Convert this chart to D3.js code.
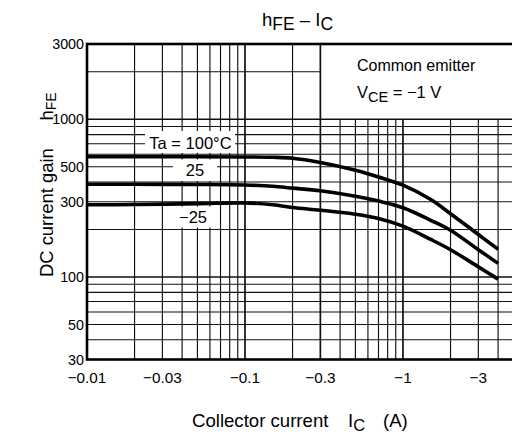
<!DOCTYPE html>
<html>
<head>
<meta charset="utf-8">
<script src="https://cdn.jsdelivr.net/npm/d3@7"></script>
<style>
  html, body { margin: 0; padding: 0; background: #fff; }
  svg { display: block; }
  text { font-family: "Liberation Sans", Arial, Helvetica, sans-serif; fill: #000; }
</style>
</head>
<body>
<svg id="chart" width="512" height="439"></svg>
<script>
// ---- data (collector current magnitude in A, DC current gain) ----
const currents = [0.01, 0.02, 0.05, 0.1, 0.15, 0.2, 0.3, 0.5, 0.7, 1, 1.5, 2, 3, 4];
const hfeTa100 = [578, 578, 578, 577, 574, 566, 532, 475, 431, 382, 310, 252, 186, 150];
const hfeTa25  = [387, 387, 386, 383, 376, 366, 352, 325, 303, 275, 229, 198, 149, 122];
const hfeTaM25 = [287, 288, 292, 295, 287, 276, 265, 250, 235, 210, 173, 149, 116, 97];
const seriesNames = ["Ta = 100°C", "25", "−25"];
const xTickValues = [0.01, 0.03, 0.1, 0.3, 1, 3];
const xTickLabels = ["−0.01", "−0.03", "−0.1", "−0.3", "−1", "−3"];
const yTickValues = [3000, 1000, 500, 300, 100, 50, 30];
const yTickLabels = ["3000", "1000", "500", "300", "100", "50", "30"];

const svg = d3.select("#chart");
svg.append("rect").attr("width", 512).attr("height", 439).attr("fill", "#fff");

const x = d3.scaleLog().domain([0.01, 5]).range([87, 513.4]);
const y = d3.scaleLog().domain([30, 3000]).range([359.5, 44]);

const x0 = x(0.01), x1 = x(5), y0 = y(30), y1 = y(3000);
const boxX = x(0.3), boxY = y(1000);

// ---- grid ----
const vGrid = [];
[0.01, 0.1, 1].forEach(d => { for (let k = 1; k <= 9; k++) { const v = +(d * k).toPrecision(3); if (v > 0.01 && v < 5) vGrid.push(v); } });
const hGrid = [];
[10, 100, 1000].forEach(d => { for (let k = 1; k <= 9; k++) { const v = d * k; if (v > 30 && v < 3000) hGrid.push(v); } });
const isDecade = v => Math.abs(Math.log10(v) - Math.round(Math.log10(v))) < 1e-6;

const grid = svg.append("g").attr("stroke", "#111");
grid.selectAll("line.v").data(vGrid).join("line")
  .attr("x1", d => x(d)).attr("x2", d => x(d))
  .attr("y1", d => d <= 0.3001 ? y1 : boxY).attr("y2", y0)
  .attr("stroke-width", d => (isDecade(d) || Math.abs(d - 0.3) < 1e-6) ? 1.7 : 1.15);
grid.selectAll("line.h").data(hGrid).join("line")
  .attr("y1", d => y(d)).attr("y2", d => y(d))
  .attr("x1", x0).attr("x2", d => d > 1000 ? boxX : x1)
  .attr("stroke-width", d => isDecade(d) ? 1.5 : 1.15);

// ---- label backgrounds ----
const labelBoxes = [
  {x: 145, y: 131, w: 90, h: 22},
  {x: 173, y: 159.5, w: 44, h: 21.5},
  {x: 171, y: 206.5, w: 45, h: 21}
];
svg.append("g").selectAll("rect").data(labelBoxes).join("rect")
  .attr("x", d => d.x).attr("y", d => d.y).attr("width", d => d.w).attr("height", d => d.h)
  .attr("fill", "#fff");

// ---- curves ----
const series = [hfeTa100, hfeTa25, hfeTaM25];
const line = d3.line().x(d => x(d[0])).y(d => y(d[1])).curve(d3.curveCatmullRom.alpha(0.5));
svg.append("g").selectAll("path").data(series).join("path")
  .attr("d", s => line(currents.map((c, i) => [c, s[i]])))
  .attr("fill", "none").attr("stroke", "#000").attr("stroke-width", 3.6);

// ---- frame ----
svg.append("rect").attr("x", x0).attr("y", y1).attr("width", x1 - x0).attr("height", y0 - y1)
  .attr("fill", "none").attr("stroke", "#000").attr("stroke-width", 2.6);

// ---- series labels ----
const labelPos = [[190.5, 148.5], [195, 176], [193, 223]];
svg.append("g").selectAll("text").data(seriesNames).join("text")
  .attr("x", (d, i) => labelPos[i][0]).attr("y", (d, i) => labelPos[i][1])
  .attr("text-anchor", "middle").attr("font-size", 16.5).text(d => d);

// ---- tick labels ----
svg.append("g").selectAll("text").data(xTickValues).join("text")
  .attr("x", d => x(d)).attr("y", 383).attr("text-anchor", "middle").attr("font-size", 15.3)
  .text((d, i) => xTickLabels[i]);
svg.append("g").selectAll("text").data(yTickValues).join("text")
  .attr("x", 84).attr("y", d => y(d) + 5).attr("text-anchor", "end").attr("font-size", 14.3)
  .text((d, i) => yTickLabels[i]);

// ---- title ----
const title = svg.append("text").attr("x", 262).attr("y", 26).attr("font-size", 18.5);
title.append("tspan").text("h");
title.append("tspan").attr("font-size", 17.5).attr("dy", 3.5).text("FE");
title.append("tspan").attr("dy", -3.5).text(" – I");
title.append("tspan").attr("font-size", 17.5).attr("dy", 3.5).text("C");

// ---- condition text ----
svg.append("text").attr("x", 357).attr("y", 71).attr("font-size", 16).text("Common emitter");
const vce = svg.append("text").attr("x", 357).attr("y", 98).attr("font-size", 16.5);
vce.append("tspan").text("V");
vce.append("tspan").attr("font-size", 14.5).attr("dy", 4).text("CE");
vce.append("tspan").attr("dy", -4).text(" = −1 V");

// ---- axis titles ----
svg.append("text").attr("x", 192).attr("y", 427).attr("font-size", 18.6).text("Collector current");
const ic = svg.append("text").attr("x", 348).attr("y", 427).attr("font-size", 18.6);
ic.append("tspan").text("I");
ic.append("tspan").attr("font-size", 16.5).attr("dy", 4).text("C");
svg.append("text").attr("x", 383).attr("y", 427).attr("font-size", 18.6).text("(A)");

svg.append("text").attr("transform", "translate(53.3,277) rotate(-90)").attr("font-size", 18.4).text("DC current gain");
const hfe = svg.append("text").attr("transform", "translate(53.3,120.5) rotate(-90)").attr("font-size", 18.4);
hfe.append("tspan").text("h");
hfe.append("tspan").attr("font-size", 14).attr("dy", 3).text("FE");
</script>
</body>
</html>
